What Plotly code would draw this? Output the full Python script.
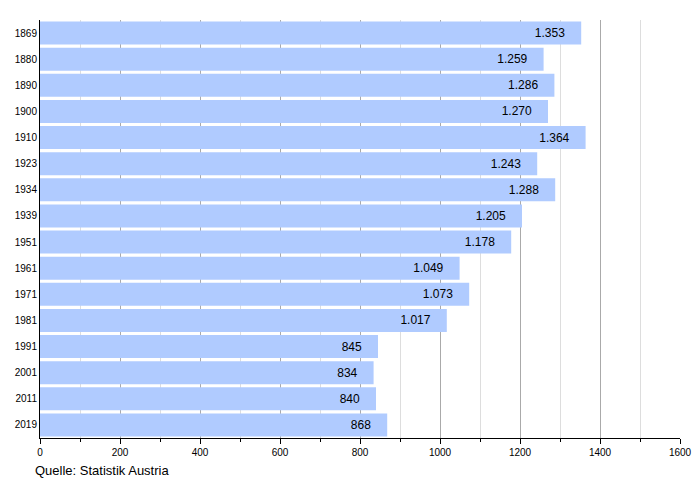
import plotly.graph_objects as go

years = ["1869", "1880", "1890", "1900", "1910", "1923", "1934", "1939", "1951",
         "1961", "1971", "1981", "1991", "2001", "2011", "2019"]
values = [1353, 1259, 1286, 1270, 1364, 1243, 1288, 1205, 1178,
          1049, 1073, 1017, 845, 834, 840, 868]
labels = [f"{v:,}".replace(",", ".") + "\u00a0\u00a0\u00a0\u00a0" for v in values]

fig = go.Figure(go.Bar(
    y=years, x=values, orientation="h",
    marker=dict(color="#b0cbff", line=dict(width=0)),
    text=labels, textposition="inside", insidetextanchor="end",
    textfont=dict(color="black", size=12, family="Liberation Sans, Arial"),
    cliponaxis=False,
))

fig.update_layout(
    width=692, height=472,
    margin=dict(l=32, r=20, t=12, b=42, autoexpand=False),
    plot_bgcolor="white", paper_bgcolor="white",
    bargap=0.12, showlegend=False,
    font=dict(family="Liberation Sans, Arial", size=10, color="black"),
    uniformtext=dict(minsize=12, mode="show"),
    annotations=[dict(text="Quelle: Statistik Austria", x=0, xref="paper",
                      xanchor="left", xshift=-7, y=0, yref="paper",
                      yanchor="top", yshift=-23, showarrow=False,
                      font=dict(size=13, color="black"))],
)
fig.update_xaxes(
    automargin=False,
    range=[0, 1600], tick0=0, dtick=200, showgrid=True, gridcolor="#aaaaaa",
    gridwidth=1, zeroline=False, showline=True, linecolor="black", linewidth=1,
    ticks="outside", ticklen=5, tickcolor="black", tickfont=dict(size=10),
    minor=dict(dtick=100, showgrid=True, gridcolor="#dddddd", ticks="outside",
               ticklen=3, tickcolor="black"),
)
fig.update_yaxes(
    automargin=False,
    autorange="reversed", showline=True, linecolor="black", linewidth=1,
    showgrid=False, ticks="", tickfont=dict(size=10),
)

fig.write_html("out.html")
